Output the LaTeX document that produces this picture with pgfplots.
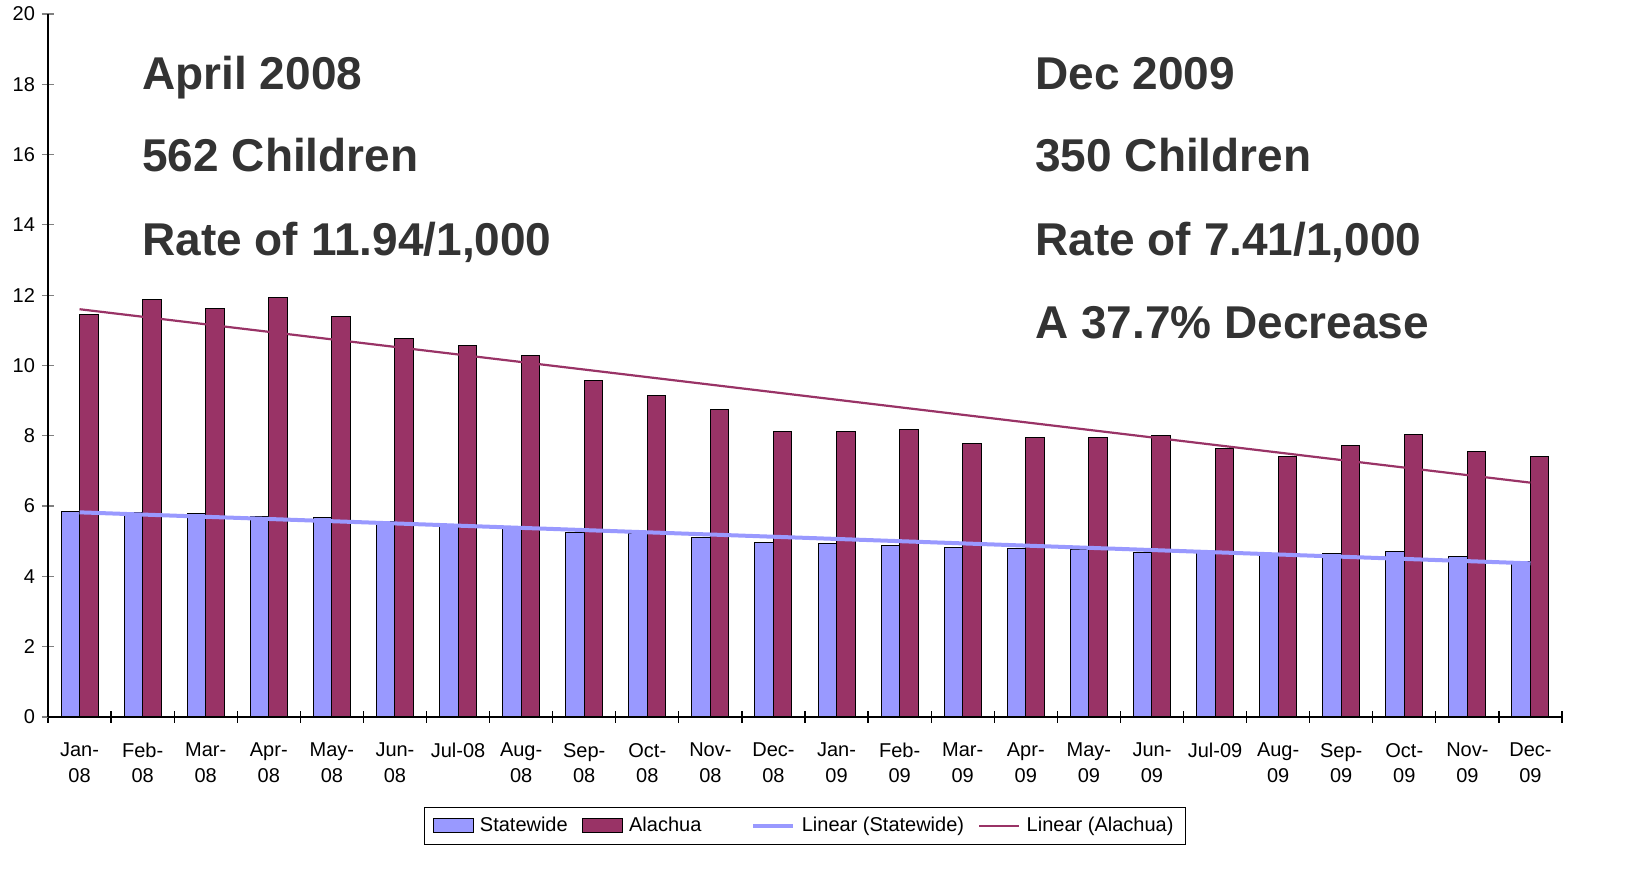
\documentclass[border=0pt]{standalone}
\usepackage{pgfplots}
\usepackage{pgfplotstable}
\pgfplotsset{compat=1.18}
\usepackage{fontspec}
\setmainfont{Liberation Sans}

\definecolor{sw}{HTML}{9999FF}
\definecolor{ala}{HTML}{993366}
\definecolor{note}{HTML}{333333}

% monthly rates per 1,000: Statewide and Alachua
\pgfplotstableread{
x sw ala
0 5.86 11.46
1 5.83 11.87
2 5.79 11.61
3 5.71 11.94
4 5.68 11.38
5 5.55 10.77
6 5.46 10.58
7 5.37 10.27
8 5.26 9.56
9 5.21 9.16
10 5.10 8.76
11 4.96 8.13
12 4.93 8.13
13 4.88 8.18
14 4.83 7.77
15 4.79 7.95
16 4.77 7.95
17 4.69 8.00
18 4.68 7.63
19 4.64 7.41
20 4.64 7.72
21 4.70 8.03
22 4.57 7.54
23 4.42 7.41
}\rates

\begin{document}
\begin{tikzpicture}
\useasboundingbox (-24pt,-82pt) rectangle (790pt,358.5pt);
\begin{axis}[
  scale only axis,
  width=757pt, height=351.5pt,
  xmin=-0.5, xmax=23.5, ymin=0, ymax=20,
  axis x line=bottom, axis y line=left,
  axis line style={-, line width=0.6pt},
  ytick={0,2,...,20},
  xtick={0,...,23},
  xticklabels={Jan-\\08,Feb-\\08,Mar-\\08,Apr-\\08,May-\\08,Jun-\\08,Jul-08,Aug-\\08,Sep-\\08,Oct-\\08,Nov-\\08,Dec-\\08,
               Jan-\\09,Feb-\\09,Mar-\\09,Apr-\\09,May-\\09,Jun-\\09,Jul-09,Aug-\\09,Sep-\\09,Oct-\\09,Nov-\\09,Dec-\\09},
  minor xtick={-0.5,0.5,...,23.5},
  x tick style={draw=none},
  minor x tick style={draw=black, line width=0.6pt},
  y tick style={line width=0.6pt},
  tick align=center,
  major tick length=6pt, minor tick length=6pt,
  xticklabel style={align=center, font=\fontsize{10}{12.6}\selectfont, yshift=-6.5pt},
  yticklabel style={font=\fontsize{10}{12}\selectfont},
  /pgf/number format/assume math mode=true,
  legend columns=4,
  legend style={at={(0.5,-0.155)}, anchor=center, draw=black, line width=0.6pt,
    font=\fontsize{10}{12}\selectfont, inner xsep=4pt, inner ysep=3pt,
    /tikz/every odd column/.append style={column sep=1.2pt},
    /tikz/every even column/.append style={column sep=5pt}},
  legend cell align=left,
]
\addplot[ybar, bar width=9.25pt, bar shift=-4.625pt, fill=sw, draw=black, line width=0.5pt,
  legend image code/.code={\draw[fill=sw, draw=black, line width=0.5pt] (0pt,-3.5pt) rectangle (20pt,3.5pt);}]
  table[x=x, y=sw] {\rates};
\addlegendentry{Statewide}
\addplot[ybar, bar width=9.25pt, bar shift=4.625pt, fill=ala, draw=black, line width=0.5pt,
  legend image code/.code={\draw[fill=ala, draw=black, line width=0.5pt] (0pt,-3.5pt) rectangle (20pt,3.5pt);}]
  table[x=x, y=ala] {\rates};
\addlegendentry{Alachua\rule{18pt}{0pt}}
\addplot[sharp plot, no marks, color=sw, line width=2pt,
  legend image code/.code={\draw[sw, line width=2pt] (0pt,0pt) -- (20pt,0pt);}]
  table[x=x, y={create col/linear regression={y=sw}}] {\rates};
\addlegendentry{Linear (Statewide)}
\addplot[sharp plot, no marks, color=ala, line width=1.1pt,
  legend image code/.code={\draw[ala, line width=1.1pt] (0pt,0pt) -- (20pt,0pt);}]
  table[x=x, y={create col/linear regression={y=ala}}] {\rates};
\addlegendentry{Linear (Alachua)}
\end{axis}
\begin{scope}[every node/.style={anchor=base west, inner sep=0pt, text=note,
    font=\bfseries\fontsize{23}{28}\selectfont}]
\node at (47pt,313.5pt) {April 2008};
\node at (47pt,272.5pt) {562 Children};
\node at (47pt,230.5pt) {Rate of 11.94/1,000};
\node at (493.5pt,313.5pt) {Dec 2009};
\node at (493.5pt,272.5pt) {350 Children};
\node at (493.5pt,230.5pt) {Rate of 7.41/1,000};
\node at (493.5pt,189pt) {A 37.7\% Decrease};
\end{scope}
\end{tikzpicture}
\end{document}
